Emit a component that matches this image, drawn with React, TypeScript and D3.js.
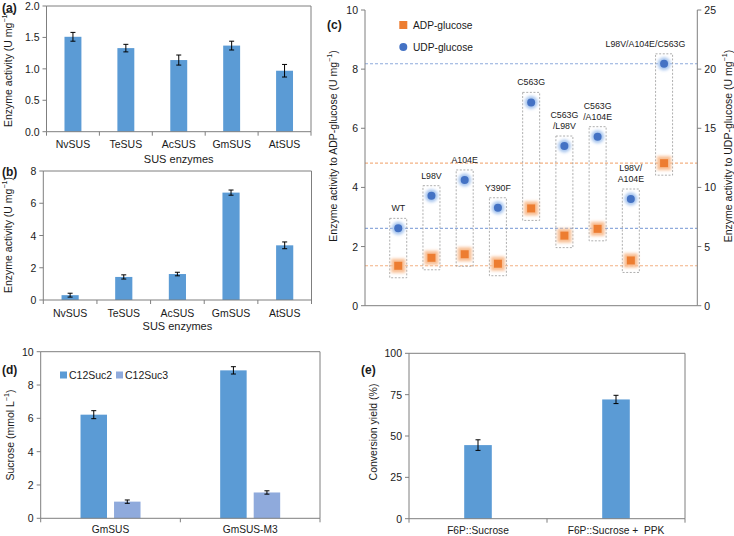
import React from "react";
import * as d3 from "d3";

// ---------- data ----------
const susEnzymes = ["NvSUS", "TeSUS", "AcSUS", "GmSUS", "AtSUS"];
const activityA = [1.51, 1.33, 1.14, 1.37, 0.97];
const errorA = [0.07, 0.06, 0.08, 0.07, 0.1];
const ticksA = [0, 0.5, 1.0, 1.5, 2.0];

const activityB = [0.3, 1.43, 1.61, 6.66, 3.39];
const errorB = [0.12, 0.13, 0.11, 0.16, 0.21];
const ticksB = [0, 2, 4, 6, 8];

const mutantLines = [
  ["WT"],
  ["L98V"],
  ["A104E"],
  ["Y390F"],
  ["C563G"],
  ["C563G", "/L98V"],
  ["C563G", "/A104E"],
  ["L98V/", "A104E"],
  ["L98V/A104E/C563G"],
];
const adpActivity = [1.35, 1.62, 1.74, 1.42, 3.29, 2.37, 2.6, 1.53, 4.82];
const udpActivity = [6.54, 9.3, 10.63, 8.28, 17.19, 13.5, 14.29, 9.02, 20.45];
const ticksCLeft = [0, 2, 4, 6, 8, 10];
const ticksCRight = [0, 5, 10, 15, 20, 25];

const strainsD = ["GmSUS", "GmSUS-M3"];
const seriesD = ["C12Suc2", "C12Suc3"];
const c12Suc2 = [6.22, 8.88];
const c12Suc2Err = [0.24, 0.22];
const c12Suc3 = [1.0, 1.55];
const c12Suc3Err = [0.1, 0.1];
const ticksD = [0, 2, 4, 6, 8, 10];

const reactionsE = ["F6P::Sucrose", "F6P::Sucrose +  PPK"];
const yieldE = [44.5, 72.1];
const yieldErr = [3.2, 2.5];
const ticksE = [0, 25, 50, 75, 100];

// ---------- style ----------
const FONT = "'Liberation Sans', Arial, sans-serif";
const AXIS = "#7f7f7f";
const TXT = "#1a1a1a";
const BAR = "#5B9BD5";
const BAR_LIGHT = "#8FAADC";
const ORANGE = "#ED7D31";
const BLUE = "#4472C4";

function RotLabel({ x, y, text, sup, size = 10.5 }: any) {
  return (
    <text
      transform={`translate(${x},${y}) rotate(-90)`}
      textAnchor="middle"
      dominantBaseline="central"
      fontSize={size}
      fill={TXT}
    >
      {text}
      {sup ? (
        <>
          <tspan dy={-3.5} fontSize={size * 0.68}>
            {sup}
          </tspan>
          <tspan dy={3.5}>)</tspan>
        </>
      ) : null}
    </text>
  );
}

function ErrorBar({ x, yLo, yHi }: any) {
  return (
    <g stroke="#000" strokeWidth={1}>
      <line x1={x} x2={x} y1={yLo} y2={yHi} />
      <line x1={x - 2.5} x2={x + 2.5} y1={yLo} y2={yLo} />
      <line x1={x - 2.5} x2={x + 2.5} y1={yHi} y2={yHi} />
    </g>
  );
}

function YAxis({ x, y, ticks, fmt, side = "left" }: any) {
  const dir = side === "left" ? -1 : 1;
  const [r0, r1] = y.range();
  return (
    <g>
      <line x1={x} x2={x} y1={r0} y2={r1} stroke={AXIS} />
      {ticks.map((t: number) => (
        <g key={t}>
          <line x1={x} x2={x + dir * 4} y1={y(t)} y2={y(t)} stroke={AXIS} />
          <text
            x={x + dir * 7}
            y={y(t)}
            textAnchor={side === "left" ? "end" : "start"}
            dominantBaseline="central"
            fontSize={10.5}
            fill={TXT}
          >
            {fmt(t)}
          </text>
        </g>
      ))}
    </g>
  );
}

function Frame({ x0, x1, yB, yT }: any) {
  return (
    <g stroke={AXIS} fill="none">
      <line x1={x0} x2={x1} y1={yT} y2={yT} />
      <line x1={x1} x2={x1} y1={yT} y2={yB} />
    </g>
  );
}

function XBandAxis({ band, yB, labelDy = 12.5, fontSize = 10.5 }: any) {
  const [a, b] = band.range();
  const n = band.domain().length;
  const step = (b - a) / n;
  return (
    <g>
      <line x1={a} x2={b} y1={yB} y2={yB} stroke={AXIS} />
      {d3.range(n + 1).map((i) => (
        <line key={i} x1={a + i * step} x2={a + i * step} y1={yB} y2={yB + 4} stroke={AXIS} />
      ))}
      {band.domain().map((c: string) => (
        <text
          key={c}
          x={(band(c) as number) + band.bandwidth() / 2}
          y={yB + labelDy}
          textAnchor="middle"
          dominantBaseline="central"
          fontSize={fontSize}
          fill={TXT}
          style={{ whiteSpace: "pre" }}
        >
          {c}
        </text>
      ))}
    </g>
  );
}

function SimpleBars({ cats, vals, errs, x0, x1, yB, yT, max, ticks, fmt, ratio, color, labelDy, labelSize }: any) {
  const band = d3.scaleBand<string>().domain(cats).range([x0, x1]);
  const y = d3.scaleLinear().domain([0, max]).range([yB, yT]);
  const w = band.bandwidth() * ratio;
  return (
    <g>
      <Frame x0={x0} x1={x1} yB={yB} yT={yT} />
      {cats.map((c: string, i: number) => {
        const cx = (band(c) as number) + band.bandwidth() / 2;
        return (
          <g key={c}>
            <rect x={cx - w / 2} y={y(vals[i])} width={w} height={yB - y(vals[i])} fill={color} />
            <ErrorBar x={cx} yLo={y(vals[i] - errs[i])} yHi={y(vals[i] + errs[i])} />
          </g>
        );
      })}
      <YAxis x={x0} y={y} ticks={ticks} fmt={fmt} />
      <XBandAxis band={band} yB={yB} labelDy={labelDy ?? 12.5} fontSize={labelSize ?? 10.5} />
    </g>
  );
}

function PanelC() {
  const xL = 365,
    xR = 697.3,
    yB = 305.7,
    yT = 10;
  const x = d3.scaleLinear().domain([0, 10]).range([xL, xR]);
  const yL = d3.scaleLinear().domain([0, 10]).range([yB, yT]);
  const yR = d3.scaleLinear().domain([0, 25]).range([yB, yT]);
  const last = adpActivity.length - 1;
  const refLines = [
    { y: yR(udpActivity[0]), c: "#8FAADC" },
    { y: yR(udpActivity[last]), c: "#8FAADC" },
    { y: yL(adpActivity[0]), c: "#F4B183" },
    { y: yL(adpActivity[last]), c: "#F4B183" },
  ];
  return (
    <g>
      <defs>
        <filter id="blurHalo" x="-1" y="-1" width="3" height="3">
          <feGaussianBlur stdDeviation={1.8} />
        </filter>
      </defs>
      {refLines.map((r, i) => (
        <line key={i} x1={xL} x2={xR} y1={r.y} y2={r.y} stroke={r.c} strokeWidth={1.1} strokeDasharray="3,2" />
      ))}
      {mutantLines.map((lines, i) => {
        const cx = x(i + 1);
        const ya = yL(adpActivity[i]);
        const yu = yR(udpActivity[i]);
        const top = Math.min(ya, yu) - 10;
        const bot = Math.max(ya, yu) + 12;
        const isLast = i === last;
        const lx = isLast ? xR - 12 : cx;
        return (
          <g key={i}>
            <rect
              x={cx - 8.5}
              y={top}
              width={17}
              height={bot - top}
              fill="none"
              stroke="#9a9a9a"
              strokeWidth={0.8}
              strokeDasharray="2,1.6"
            />
            {lines.map((t, k) => (
              <text
                key={k}
                x={lx}
                y={top - 7 - (lines.length - 1 - k) * 11}
                textAnchor={isLast ? "end" : "middle"}
                fontSize={8.8}
                fill={TXT}
              >
                {t}
              </text>
            ))}
            <rect x={cx - 7} y={ya - 7} width={14} height={14} fill="#F8BE93" filter="url(#blurHalo)" />
            <rect x={cx - 4} y={ya - 4} width={8} height={8} fill={ORANGE} />
            <circle cx={cx} cy={yu} r={6.5} fill="#A9C6EE" filter="url(#blurHalo)" />
            <circle cx={cx} cy={yu} r={4} fill={BLUE} />
          </g>
        );
      })}
      <line x1={xL} x2={xR} y1={yB} y2={yB} stroke={AXIS} />
      <YAxis x={xL} y={yL} ticks={ticksCLeft} fmt={(d: number) => String(d)} />
      <YAxis x={xR} y={yR} ticks={ticksCRight} fmt={(d: number) => String(d)} side="right" />
      {/* legend */}
      <rect x={399.3} y={21} width={8} height={8} fill={ORANGE} />
      <text x={413} y={25} dominantBaseline="central" fontSize={10.2} fill={TXT}>
        ADP-glucose
      </text>
      <circle cx={403.3} cy={47} r={4} fill={BLUE} />
      <text x={413} y={47} dominantBaseline="central" fontSize={10.2} fill={TXT}>
        UDP-glucose
      </text>
      <text x={327} y={28.5} fontSize={12} fontWeight="bold" fill={TXT}>
        (c)
      </text>
      <RotLabel x={333} y={146} text="Enzyme activity to ADP-glucose (U mg" sup="−1" />
      <RotLabel x={728} y={146} text="Enzyme activity to UDP-glucose (U mg" sup="−1" />
    </g>
  );
}

function PanelD() {
  const x0 = 40.7,
    x1 = 320,
    yB = 518.3,
    yT = 351.7;
  const band = d3.scaleBand<string>().domain(strainsD).range([x0, x1]);
  const sub = d3.scaleBand<string>().domain(seriesD).range([-30, 30]).paddingInner(0.21);
  const y = d3.scaleLinear().domain([0, 10]).range([yB, yT]);
  const vals = [c12Suc2, c12Suc3];
  const errs = [c12Suc2Err, c12Suc3Err];
  const colors = [BAR, BAR_LIGHT];
  return (
    <g>
      <Frame x0={x0} x1={x1} yB={yB} yT={yT} />
      {strainsD.map((s, i) => {
        const gc = (band(s) as number) + band.bandwidth() / 2;
        return seriesD.map((ser, k) => {
          const bx = gc + (sub(ser) as number);
          const v = vals[k][i];
          const e = errs[k][i];
          const cx = bx + sub.bandwidth() / 2;
          return (
            <g key={s + ser}>
              <rect x={bx} y={y(v)} width={sub.bandwidth()} height={yB - y(v)} fill={colors[k]} />
              <ErrorBar x={cx} yLo={y(v - e)} yHi={y(v + e)} />
            </g>
          );
        });
      })}
      <YAxis x={x0} y={y} ticks={ticksD} fmt={(d: number) => String(d)} />
      <XBandAxis band={band} yB={yB} labelDy={11.5} fontSize={10.2} />
      {seriesD.map((ser, k) => (
        <g key={ser}>
          <rect x={60 + k * 56} y={371.5} width={7} height={7} fill={colors[k]} />
          <text x={69 + k * 56} y={375} dominantBaseline="central" fontSize={10.5} fill={TXT}>
            {ser}
          </text>
        </g>
      ))}
      <text x={2} y={373.5} fontSize={12} fontWeight="bold" fill={TXT}>
        (d)
      </text>
      <RotLabel x={10} y={435} text="Sucrose (mmol L" sup="−1" />
    </g>
  );
}

export default function App() {
  return (
    <svg
      width={734}
      height={536}
      style={{ position: "absolute", left: 0, top: 0, background: "#fff" }}
      fontFamily={FONT}
    >
      <rect width={734} height={536} fill="#fff" />
      {/* (a) */}
      <SimpleBars
        cats={susEnzymes}
        vals={activityA}
        errs={errorA}
        x0={46.5}
        x1={311}
        yB={131.7}
        yT={6}
        max={2}
        ticks={ticksA}
        fmt={d3.format(".1f")}
        ratio={0.32}
        color={BAR}
      />
      <text x={178.7} y={158.5} textAnchor="middle" dominantBaseline="central" fontSize={11} fill={TXT}>
        SUS enzymes
      </text>
      <text x={2} y={12} fontSize={12} fontWeight="bold" fill={TXT}>
        (a)
      </text>
      <RotLabel x={8} y={69} text="Enzyme activity (U mg" sup="−1" />

      {/* (b) */}
      <SimpleBars
        cats={susEnzymes}
        vals={activityB}
        errs={errorB}
        x0={43.3}
        x1={311.5}
        yB={300}
        yT={171}
        max={8}
        ticks={ticksB}
        fmt={(d: number) => String(d)}
        ratio={0.32}
        color={BAR}
      />
      <text x={177.4} y={326} textAnchor="middle" dominantBaseline="central" fontSize={11} fill={TXT}>
        SUS enzymes
      </text>
      <text x={2} y={176} fontSize={12} fontWeight="bold" fill={TXT}>
        (b)
      </text>
      <RotLabel x={8} y={235} text="Enzyme activity (U mg" sup="−1" />

      {/* (c) */}
      <PanelC />

      {/* (d) */}
      <PanelD />

      {/* (e) */}
      <SimpleBars
        cats={reactionsE}
        vals={yieldE}
        errs={yieldErr}
        x0={409}
        x1={685}
        yB={518.7}
        yT={353.3}
        max={100}
        ticks={ticksE}
        fmt={(d: number) => String(d)}
        ratio={0.2}
        color={BAR}
        labelDy={11.5}
        labelSize={10.2}
      />
      <text x={361} y={373.5} fontSize={12} fontWeight="bold" fill={TXT}>
        (e)
      </text>
      <RotLabel x={373} y={432} text="Conversion yield (%)" />
    </svg>
  );
}
